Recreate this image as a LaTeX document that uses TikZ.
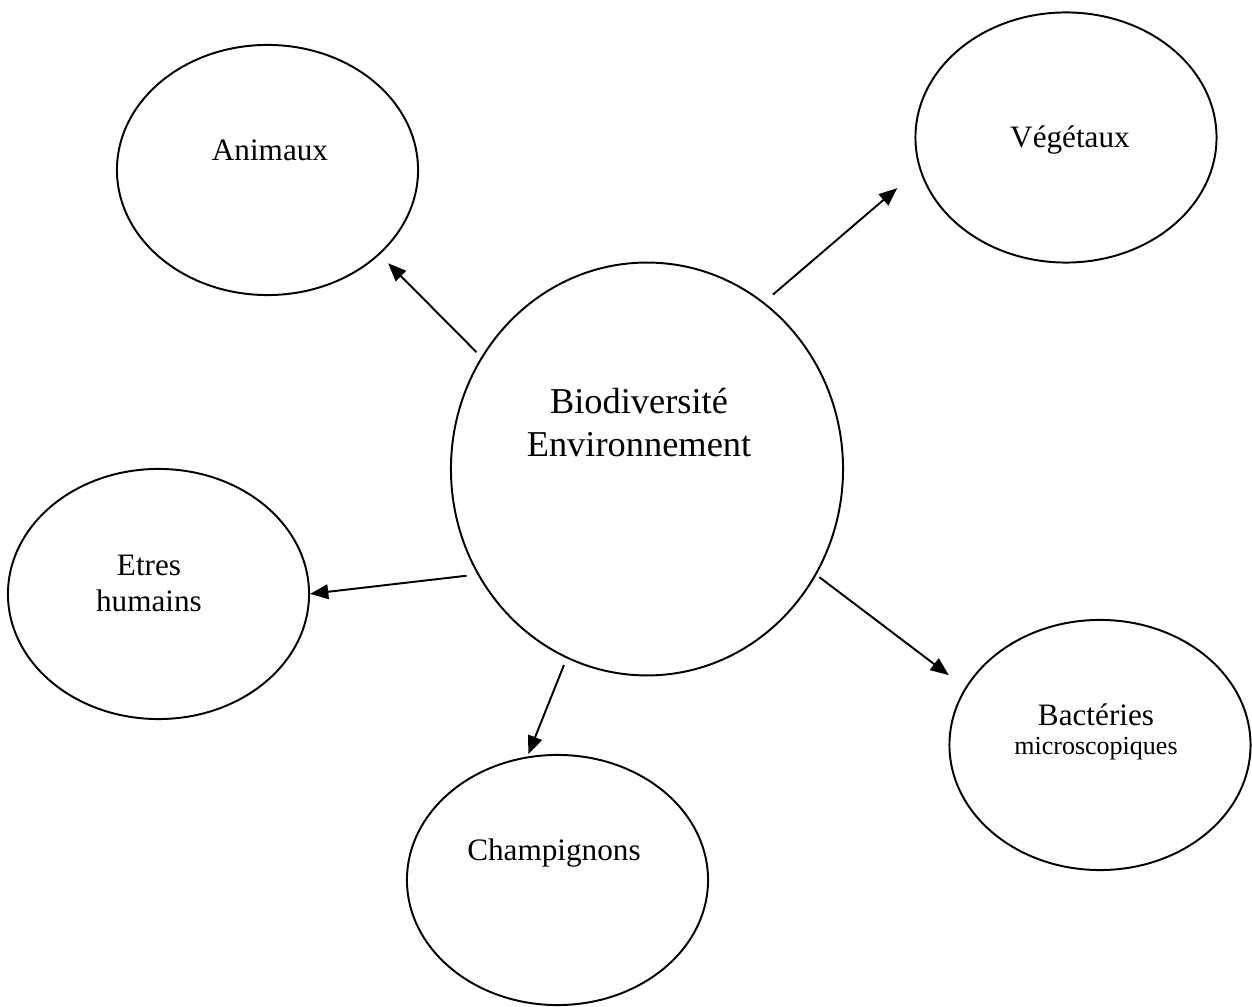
\documentclass[tikz,border=0pt]{standalone}
\usepackage{fontspec}
\setmainfont{Liberation Serif}
\usetikzlibrary{arrows.meta, shapes.geometric}

\begin{document}
\begin{tikzpicture}[
    x=0.3846pt, y=-0.3846pt,
    % Styles
    bubble/.style={draw, ellipse, line width=0.75pt, inner sep=0pt, outer sep=0pt, minimum width=115.8pt, minimum height=96.2pt},
    core/.style={bubble, minimum width=150.8pt, minimum height=158.8pt},
    word/.style={inner sep=0pt, anchor=base, align=center, font=\fontsize{12}{14.2}\selectfont},
    link/.style={-{Triangle[length=7pt, width=5.6pt]}, line width=0.75pt},
]
\useasboundingbox (0,0) rectangle (1252,1007);

% Centre
\node[core] (bio) at (647,469) {};
\node[word, font=\fontsize{14}{16.9}\selectfont] (biotxt) at (639,457) {Biodiversité\\Environnement};

% Groups around
\node[bubble] (ani) at (267.5,170) {};
\node[word] (anitxt) at (270,161) {Animaux};

\node[bubble] (veg) at (1066,137.5) {};
\node[word] (vegtxt) at (1070,148) {Végétaux};

\node[bubble] (hum) at (158.5,594) {};
\node[word] (humtxt) at (149,612) {Etres\\humains};

\node[bubble] (bac) at (1100,745) {};
\node[word] (bactxt) at (1096,755) {Bactéries\\[-3pt]{\fontsize{10}{10.8}\selectfont microscopiques}};

\node[bubble] (cha) at (557.5,880) {};
\node[word] (chatxt) at (554,861) {Champignons};

% Arrows
\draw[link, shorten <=3.0pt, shorten >=5.0pt] (bio.146) -- (ani.-37);
\draw[link, shorten <=4.9pt, shorten >=11.6pt] (bio.55) -- (veg.-168);
\draw[link, shorten <=4.6pt, shorten >=0.4pt] (bio.-148) -- (hum.0);
\draw[link, shorten <=1.8pt, shorten >=8.3pt] (bio.-32) -- (bac.157);
\draw[link, shorten <=3.1pt, shorten >=1.4pt] (bio.-113) -- (cha.104);
\end{tikzpicture}
\end{document}
